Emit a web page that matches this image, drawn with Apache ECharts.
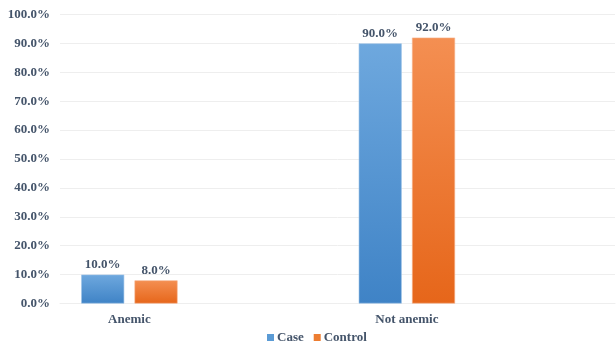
<!DOCTYPE html>
<html>
<head>
<meta charset="utf-8">
<script src="https://cdn.jsdelivr.net/npm/echarts@6/dist/echarts.min.js"></script>
<style>
  html, body { margin: 0; padding: 0; background: #ffffff; }
  #chart { width: 616px; height: 350px; }
</style>
</head>
<body>
<div id="chart"></div>
<script>
// Anemia status by group (percent)
const categories = ['Anemic', 'Not anemic'];
const caseValues = [10.0, 90.0];
const controlValues = [8.0, 92.0];
const yTicks = [0, 10, 20, 30, 40, 50, 60, 70, 80, 90, 100];

// Each category is followed by an empty slot so the groups sit left within wide bands
const axisCats = [];
const caseData = [];
const controlData = [];
categories.forEach((c, i) => {
  axisCats.push(c, '');
  caseData.push(caseValues[i], '-');
  controlData.push(controlValues[i], '-');
});

const textColor = '#44546a';
const fontFamily = '"Liberation Serif", "Times New Roman", serif';

function grad(top, bottom) {
  return new echarts.graphic.LinearGradient(0, 0, 0, 1, [
    { offset: 0, color: top },
    { offset: 1, color: bottom }
  ]);
}

const labelOpt = {
  show: true,
  position: 'top',
  distance: 3,
  color: textColor,
  fontFamily: fontFamily,
  fontWeight: 'bold',
  fontSize: 13,
  formatter: p => p.value.toFixed(1) + '%'
};

const chart = echarts.init(document.getElementById('chart'), null, { renderer: 'canvas' });
chart.setOption({
  animation: false,
  backgroundColor: '#ffffff',
  textStyle: { fontFamily: fontFamily },
  grid: { left: 60, right: 1, top: 14.5, bottom: 46.5, containLabel: false },
  legend: {
    top: 331,
    left: 262,
    padding: [0, 5],
    itemWidth: 7,
    itemHeight: 7,
    itemGap: 10,
    icon: 'rect',
    textStyle: { color: textColor, fontFamily: fontFamily, fontWeight: 'bold', fontSize: 13, padding: [0, 0, 0, -2] },
    data: [
      { name: 'Case', itemStyle: { color: '#5b9bd5', borderWidth: 0 } },
      { name: 'Control', itemStyle: { color: '#ed7d31', borderWidth: 0 } }
    ]
  },
  xAxis: {
    type: 'category',
    data: axisCats,
    axisLine: { show: true, lineStyle: { color: '#eeeeee' } },
    axisTick: { show: false },
    axisLabel: {
      color: textColor, fontFamily: fontFamily, fontWeight: 'bold', fontSize: 13,
      margin: 10, interval: 0
    }
  },
  yAxis: {
    type: 'value',
    min: yTicks[0],
    max: yTicks[yTicks.length - 1],
    interval: 10,
    axisLine: { show: false },
    axisTick: { show: false },
    splitLine: { lineStyle: { color: '#eeeeee', width: 1 } },
    axisLabel: {
      color: textColor, fontFamily: fontFamily, fontWeight: 'bold', fontSize: 13,
      margin: 10,
      formatter: v => v.toFixed(1) + '%'
    }
  },
  series: [
    {
      name: 'Case',
      type: 'bar',
      data: caseData,
      barWidth: 43,
      barGap: '24%',
      itemStyle: { color: grad('#6ea8de', '#3f83c6'), borderColor: '#9cc3e8', borderWidth: 0.6 },
      label: labelOpt
    },
    {
      name: 'Control',
      type: 'bar',
      data: controlData,
      barWidth: 43,
      itemStyle: { color: grad('#f48f52', '#e6661a'), borderColor: '#f6b088', borderWidth: 0.6 },
      label: labelOpt
    }
  ]
});
</script>
</body>
</html>
